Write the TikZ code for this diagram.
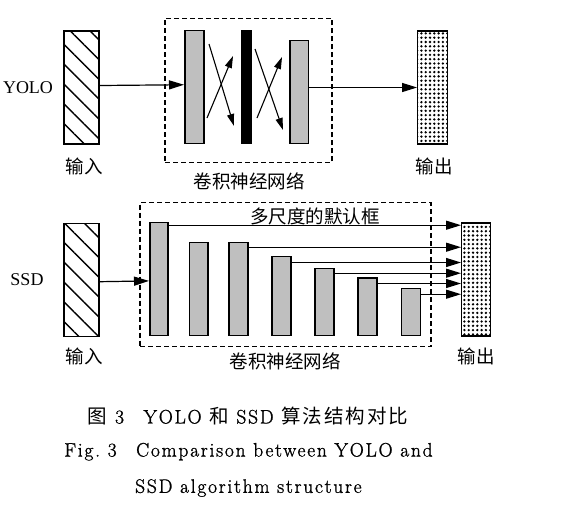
\documentclass[tikz,border=0pt]{standalone}
\usepackage{fontspec}
\newfontfamily\cjk{Noto Sans CJK SC}
\newfontfamily\cjkcap[LetterSpace=10]{Noto Sans CJK SC}
\newfontfamily\tnr{Liberation Serif}
\newfontfamily\capfont[LetterSpace=9,FakeBold=1.2]{Latin Modern Roman}
\usetikzlibrary{arrows.meta,positioning,calc,patterns.meta}

\begin{document}
\begin{tikzpicture}[
  x=1pt, y=-1pt,
  >={Triangle[length=15pt,width=9pt]},
  inbox/.style={draw, line width=1.4pt, inner sep=0pt, minimum width=35pt, minimum height=113pt, pattern={Lines[angle=-45,distance=14pt,line width=1.4pt]}},
  outbox/.style={draw, line width=1.4pt, inner sep=0pt, minimum width=29.5pt, minimum height=113pt, pattern={Dots[distance=4.3pt,radius=1.3pt]}},
  bar/.style={draw, line width=1.5pt, fill=black!25, inner sep=0pt, minimum width=19pt, anchor=south west},
  net/.style={draw, line width=1.1pt, dash pattern=on 5pt off 3pt, inner sep=0pt},
  lab/.style={font=\cjk\fontsize{18.5}{20}\selectfont, inner sep=0pt},
  tag/.style={font=\tnr\fontsize{18}{20}\selectfont, inner sep=0pt},
  captext/.style={font=\capfont\fontsize{19.5}{22}\selectfont, inner sep=0pt},
  arr/.style={->, line width=1.2pt},
  xarr/.style={-{Triangle[length=12pt,width=7pt]}, line width=1.1pt}]
  \useasboundingbox (0,0) rectangle (561,515);

  % YOLO
  \node[tag] (yolo) at (28,88) {YOLO};
  \node[inbox] (yin) at (81.5,87.5) {};
  \node[net, minimum width=167pt, minimum height=144pt] (ynet) at (248.5,90.3) {};
  \node[bar, minimum height=113pt] (g1) at (184,144) {};
  \node[bar, fill=black, minimum width=9.5pt, minimum height=113pt] (kb) at (241,144) {};
  \node[bar, minimum width=18.5pt, minimum height=102.7pt] (g2) at (289,144) {};
  \node[outbox] (yout) at (432.5,87.5) {};
  \node[lab] (yinl) at (84,166) {输入};
  \node[lab] (ynetl) at (249,181) {卷积神经网络};
  \node[lab] (youtl) at (434,166) {输出};
  \coordinate (c1a) at (209,44);
  \coordinate (c1b) at (234,126);
  \coordinate (c2a) at (207,118);
  \coordinate (c2b) at (233,56);
  \coordinate (c3a) at (255,49);
  \coordinate (c3b) at (283,130);
  \coordinate (c4a) at (257,118);
  \coordinate (c4b) at (282,57);
  \draw[arr] ([yshift=2pt]yin.east) -- ([yshift=2pt]g1.west);
  \draw[xarr] (c1a) -- (c1b);
  \draw[xarr] (c2a) -- (c2b);
  \draw[xarr] (c3a) -- (c3b);
  \draw[xarr] (c4a) -- (c4b);
  \draw[arr] (g2.east |- yout.west) -- (yout.west);

  % SSD
  \node[tag] (ssd) at (27,280) {SSD};
  \node[inbox] (sin) at (81.5,279.7) {};
  \node[net, minimum width=291pt, minimum height=144pt] (snet) at (285.5,274.7) {};
  \node[bar, minimum width=18pt, minimum height=112.7pt] (b1) at (149,336) {};
  \node[bar, minimum width=18.3pt, minimum height=92.7pt] (b2) at (188.7,336) {};
  \node[bar, minimum width=18.7pt, minimum height=92.7pt] (b3) at (228.3,336) {};
  \node[bar, minimum height=78.7pt] (b4) at (271,336) {};
  \node[bar, minimum height=66.7pt] (b5) at (314.3,336) {};
  \node[bar, minimum height=57.3pt] (b6) at (357,336) {};
  \node[bar, minimum height=46.7pt] (b7) at (400.7,336) {};
  \node[outbox, minimum width=29pt] (sout) at (476.2,279.4) {};
  \node[lab] (boxl) at (315,216.7) {多尺度的默认框};
  \node[lab] (sinl) at (84,356.7) {输入};
  \node[lab] (snetl) at (285,361.7) {卷积神经网络};
  \node[lab] (soutl) at (476,356.7) {输出};
  \draw[arr] ([yshift=-2pt]sin.east) -- ([yshift=-2pt]b1.west);
  \foreach \b/\s in {b1/3.4, b3/5.4, b4/6.7, b5/5.4, b6/6.3, b7/6.4}
    \draw[arr] ([yshift=-\s pt]\b.north east) -- ([yshift=-\s pt]\b.north east -| sout.west);

  % caption
  \node[captext] (cap1) at (248,416) {{\cjkcap 图} 3\quad YOLO {\cjkcap 和} SSD {\cjkcap 算法结构对比}};
  \node[captext] (cap2) at (248.5,451.7) {Fig.\ 3\quad Comparison between YOLO and};
  \node[captext, anchor=west] (cap3) at (135,488) {SSD algorithm structure};
\end{tikzpicture}
\end{document}
